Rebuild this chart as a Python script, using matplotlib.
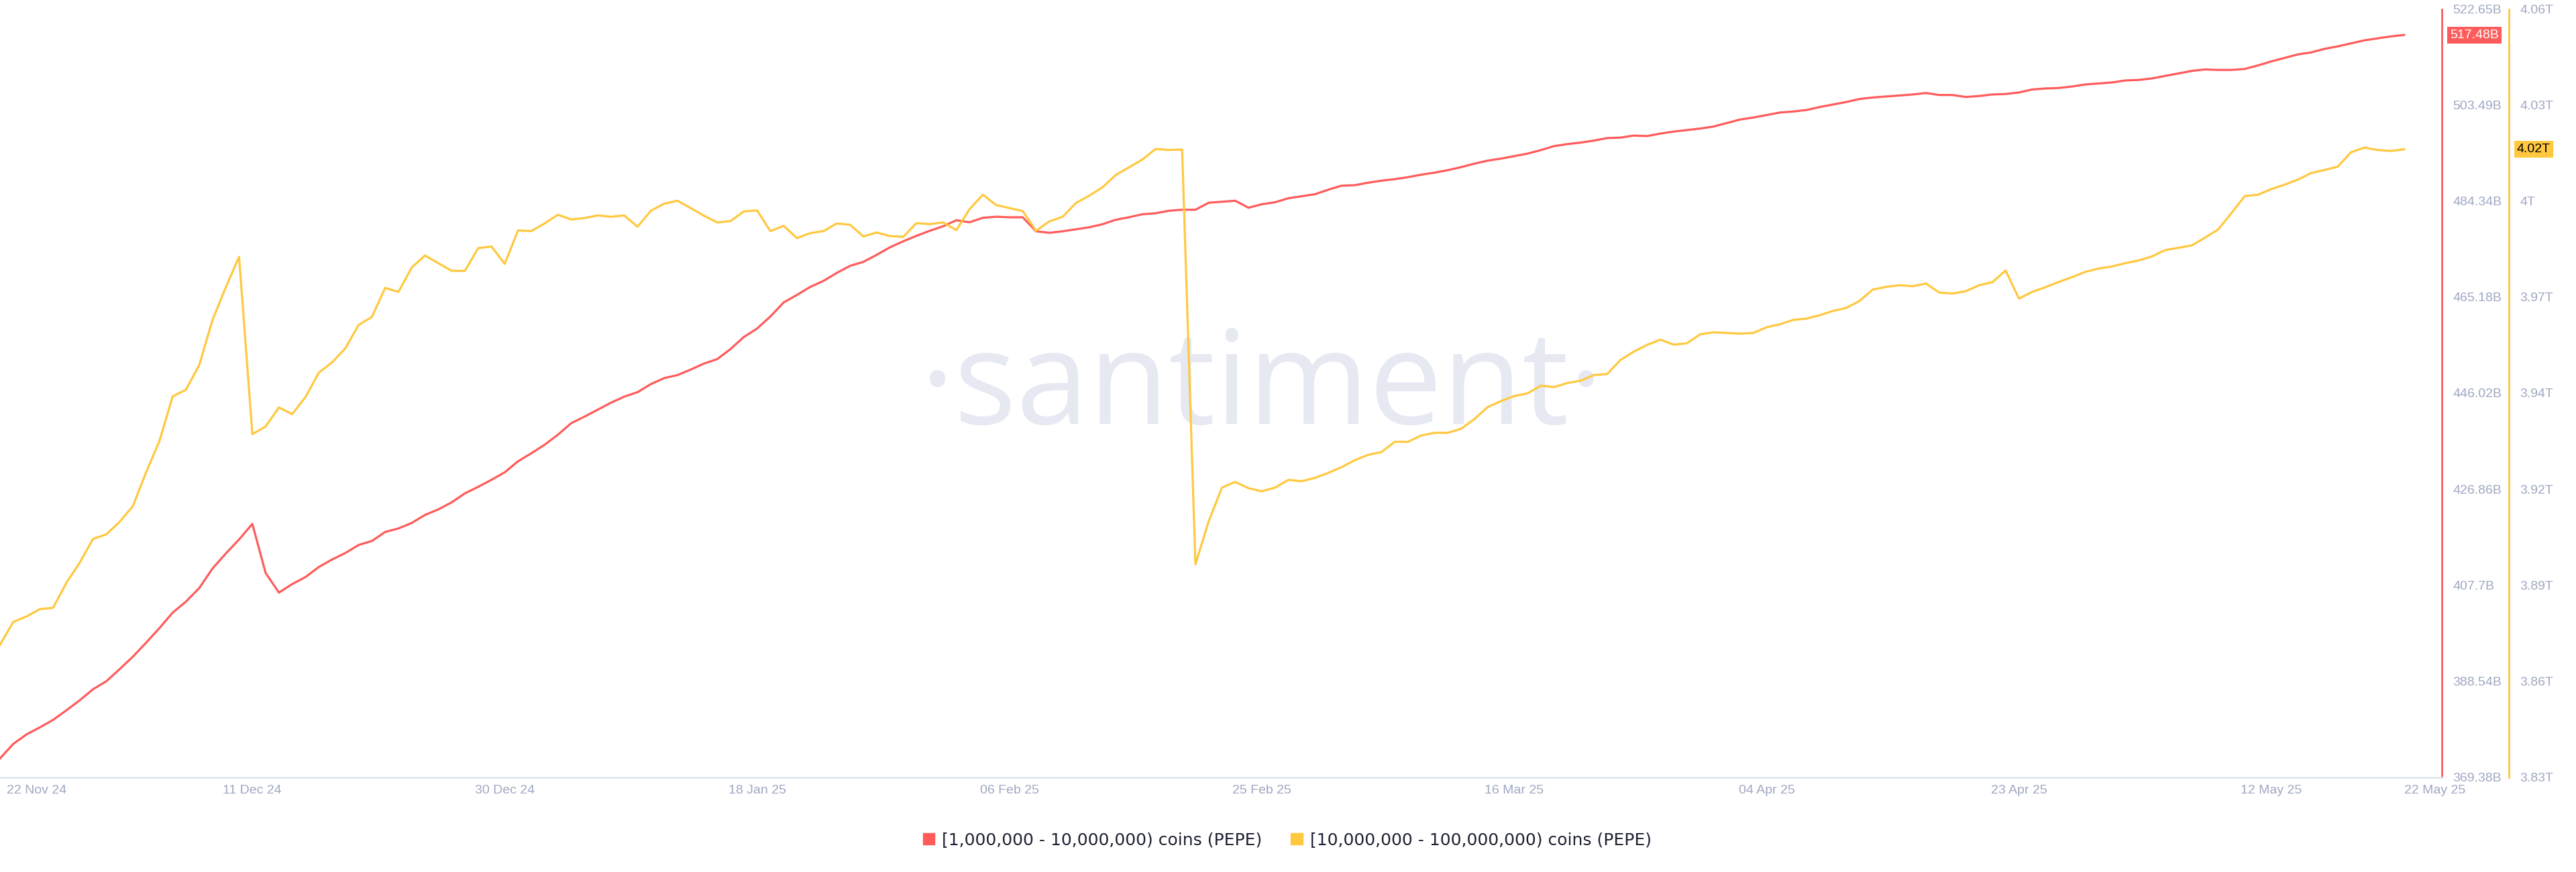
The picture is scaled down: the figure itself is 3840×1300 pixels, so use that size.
import matplotlib
matplotlib.use('Agg')
import matplotlib.pyplot as plt
import matplotlib.transforms as mtransforms
from matplotlib.patches import Patch
import numpy as np
import pandas as pd

plt.rcParams['font.family'] = ['Liberation Sans', 'DejaVu Sans']

# daily values, 22 Nov 2024 .. 22 May 2025
start_date = '2024-11-22'

# [1,000,000 - 10,000,000) coins, in billions
red_vals = [
    373.1, 376.0, 377.9, 379.3, 380.8, 382.7, 384.7, 386.9, 388.5, 390.9,
    393.4, 396.2, 399.1, 402.2, 404.4, 407.1, 411.0, 414.0, 416.8, 419.9,
    410.1, 406.2, 407.9, 409.3, 411.3, 412.8, 414.1, 415.7, 416.5, 418.3,
    419.0, 420.1, 421.7, 422.8, 424.2, 426.0, 427.3, 428.7, 430.2, 432.4,
    434.0, 435.7, 437.7, 440.0, 441.3, 442.7, 444.1, 445.3, 446.2, 447.8,
    449.0, 449.6, 450.7, 451.9, 452.8, 454.8, 457.2, 458.9, 461.3, 464.1,
    465.6, 467.2, 468.4, 470.0, 471.4, 472.2, 473.6, 475.1, 476.3, 477.4,
    478.4, 479.3, 480.5, 480.1, 481.0, 481.2, 481.1, 481.1, 478.3, 478.0,
    478.3, 478.7, 479.1, 479.7, 480.6, 481.1, 481.7, 481.9, 482.4, 482.6,
    482.6, 484.0, 484.2, 484.4, 483.0, 483.7, 484.1, 484.9, 485.3, 485.7,
    486.6, 487.4, 487.5, 488.0, 488.4, 488.7, 489.1, 489.6, 490.0, 490.5,
    491.1, 491.8, 492.4, 492.8, 493.3, 493.8, 494.5, 495.3, 495.7, 496.0,
    496.4, 496.9, 497.0, 497.4, 497.3, 497.8, 498.2, 498.5, 498.8, 499.2,
    499.9, 500.6, 501.0, 501.5, 502.0, 502.2, 502.5, 503.1, 503.6, 504.1,
    504.7, 505.0, 505.2, 505.4, 505.6, 505.9, 505.5, 505.5, 505.1, 505.3,
    505.6, 505.7, 506.0, 506.6, 506.8, 506.9, 507.2, 507.6, 507.8, 508.0,
    508.4, 508.5, 508.8, 509.3, 509.8, 510.3, 510.6, 510.5, 510.5, 510.7,
    511.4, 512.2, 512.9, 513.6, 514.0, 514.7, 515.2, 515.8, 516.4, 516.8,
    517.2, 517.48,
]

# [10,000,000 - 100,000,000) coins, in trillions
yellow_vals = [
    3.8696, 3.8765, 3.8781, 3.8803, 3.8807, 3.8882, 3.8942, 3.9013, 3.9027, 3.9064,
    3.9111, 3.9213, 3.9306, 3.9440, 3.9460, 3.9534, 3.9669, 3.9767, 3.9858, 3.9327,
    3.9350, 3.9407, 3.9387, 3.9438, 3.9511, 3.9542, 3.9584, 3.9654, 3.9678, 3.9765,
    3.9753, 3.9826, 3.9862, 3.9839, 3.9816, 3.9816, 3.9884, 3.9889, 3.9837, 3.9937,
    3.9935, 3.9958, 3.9984, 3.9970, 3.9974, 3.9982, 3.9978, 3.9982, 3.9948, 3.9996,
    4.0017, 4.0026, 4.0004, 3.9981, 3.9961, 3.9965, 3.9994, 3.9997, 3.9935, 3.9951,
    3.9914, 3.9929, 3.9935, 3.9958, 3.9954, 3.9919, 3.9931, 3.9920, 3.9918, 3.9959,
    3.9956, 3.9961, 3.9938, 4.0001, 4.0044, 4.0013, 4.0004, 3.9995, 3.9936, 3.9964,
    3.9978, 4.0019, 4.0041, 4.0066, 4.0103, 4.0126, 4.0149, 4.0181, 4.0178, 4.0179,
    3.8937, 3.9066, 3.9167, 3.9184, 3.9165, 3.9156, 3.9167, 3.9190, 3.9186, 3.9196,
    3.9211, 3.9228, 3.9249, 3.9265, 3.9273, 3.9304, 3.9304, 3.9323, 3.9331, 3.9331,
    3.9343, 3.9372, 3.9408, 3.9426, 3.9441, 3.9449, 3.9472, 3.9468, 3.9480, 3.9487,
    3.9504, 3.9507, 3.9549, 3.9574, 3.9594, 3.9610, 3.9595, 3.9599, 3.9626, 3.9632,
    3.9630, 3.9628, 3.9630, 3.9647, 3.9656, 3.9669, 3.9673, 3.9683, 3.9696, 3.9705,
    3.9726, 3.9760, 3.9768, 3.9773, 3.9770, 3.9778, 3.9751, 3.9748, 3.9755, 3.9773,
    3.9782, 3.9817, 3.9733, 3.9753, 3.9767, 3.9783, 3.9797, 3.9813, 3.9823, 3.9829,
    3.9839, 3.9847, 3.9859, 3.9878, 3.9885, 3.9892, 3.9915, 3.9940, 3.9989, 4.0040,
    4.0044, 4.0061, 4.0074, 4.0089, 4.0109, 4.0118, 4.0128, 4.0171, 4.0185, 4.0178,
    4.0175, 4.0180,
]

red_ticks = ['369.38B', '388.54B', '407.7B', '426.86B', '446.02B',
             '465.18B', '484.34B', '503.49B', '522.65B']
yellow_ticks = ['3.83T', '3.86T', '3.89T', '3.92T', '3.94T',
                '3.97T', '4T', '4.03T', '4.06T']

x_tick_dates = ['2024-11-22', '2024-12-11', '2024-12-30', '2025-01-18', '2025-02-06',
                '2025-02-25', '2025-03-16', '2025-04-04', '2025-04-23', '2025-05-12']
x_tick_labels = ['22 Nov 24', '11 Dec 24', '30 Dec 24', '18 Jan 25', '06 Feb 25',
                 '25 Feb 25', '16 Mar 25', '04 Apr 25', '23 Apr 25', '12 May 25']
last_label = '22 May 25'

legend_labels = ['[1,000,000 - 10,000,000) coins (PEPE)',
                 '[10,000,000 - 100,000,000) coins (PEPE)']

RED = '#ff5b5b'
YEL = '#ffc83f'
TICK = '#9fa8c2'

dates = pd.date_range(start_date, periods=len(red_vals), freq='D')
d0 = pd.Timestamp(start_date)

fig = plt.figure(figsize=(38.4, 13), dpi=100)
ax = fig.add_axes([0, 1 - 1158.5 / 1300, 3640 / 3840, 1145 / 1300])
ax.patch.set_visible(False)
ax2 = ax.twinx()

ax.plot(dates, red_vals, color=RED, lw=2.3, zorder=3)
ax2.plot(dates, yellow_vals, color=YEL, lw=2.3, zorder=3)

ax.set_xlim(d0, d0 + pd.Timedelta(days=183.84))
ax.set_xticks([])

ax.set_ylim(369.38, 522.65)
ax.set_yticks(np.linspace(369.38, 522.65, len(red_ticks)))
ax.set_yticklabels(red_ticks)
ax.yaxis.tick_right()
ax.tick_params(axis='y', length=0, pad=12, labelsize=14, labelcolor=TICK)

ax2.set_ylim(3.83, 4.06)
ax2.set_yticks(np.linspace(3.83, 4.06, len(yellow_ticks)))
ax2.set_yticklabels(yellow_ticks)
ax2.tick_params(axis='y', length=0, pad=12, labelsize=14, labelcolor=TICK)

for s in ['top', 'left']:
    ax.spines[s].set_visible(False)
ax.spines['right'].set_color(RED)
ax.spines['right'].set_linewidth(2)
ax.spines['bottom'].set_color('#e1e5ef')
ax.spines['bottom'].set_linewidth(2)
for s in ['top', 'left', 'bottom']:
    ax2.spines[s].set_visible(False)
ax2.spines['right'].set_position(('outward', 72))
ax2.spines['right'].set_color(YEL)
ax2.spines['right'].set_linewidth(2)

# date labels under the axis
trans = mtransforms.blended_transform_factory(ax.transData, fig.transFigure)
for i, (d, lab) in enumerate(zip(x_tick_dates, x_tick_labels)):
    if i == 0:
        ax.text(pd.Timestamp(d) + pd.Timedelta(days=0.5), 0.0931, lab, transform=trans,
                ha='left', va='center', fontsize=14, color=TICK, clip_on=False)
    else:
        ax.text(pd.Timestamp(d), 0.0931, lab, transform=trans,
                ha='center', va='center', fontsize=14, color=TICK, clip_on=False)
ax.text(d0 + pd.Timedelta(days=183.3), 0.0931, last_label, transform=trans,
        ha='center', va='center', fontsize=14, color=TICK, clip_on=False)

# last value tags
ax.annotate(f'{red_vals[-1]:.2f}B', xy=(1, red_vals[-1]), xycoords=('axes fraction', 'data'),
            xytext=(8.6, 0), textcoords='offset points', ha='left', va='center',
            fontsize=14, color='white', annotation_clip=False,
            bbox=dict(boxstyle='square,pad=0.2', fc=RED, ec='none'))
ax2.annotate(f'{yellow_vals[-1]:.2f}T', xy=(1, yellow_vals[-1]), xycoords=('axes fraction', 'data'),
             xytext=(80.6, 0), textcoords='offset points', ha='left', va='center',
             fontsize=14, color='black', annotation_clip=False,
             bbox=dict(boxstyle='square,pad=0.2', fc=YEL, ec='none'))

# watermark
ax.text(0.490, 1 - 632 / 1300, '\u00b7santiment\u00b7', transform=fig.transFigure,
        fontsize=140, color='#e6e9f2', family='Open Sans', ha='center', va='baseline',
        zorder=0)

handles = [Patch(color=RED), Patch(color=YEL)]
fig.legend(handles, legend_labels, loc='center', bbox_to_anchor=(0.4997, 0.0369),
           ncol=2, frameon=False, handlelength=0.7, handleheight=0.7,
           handletextpad=0.45, columnspacing=1.7, labelcolor='#1f2233',
           prop={'family': 'DejaVu Sans', 'size': 18})

fig.savefig('out.png', dpi=100, facecolor='white')
